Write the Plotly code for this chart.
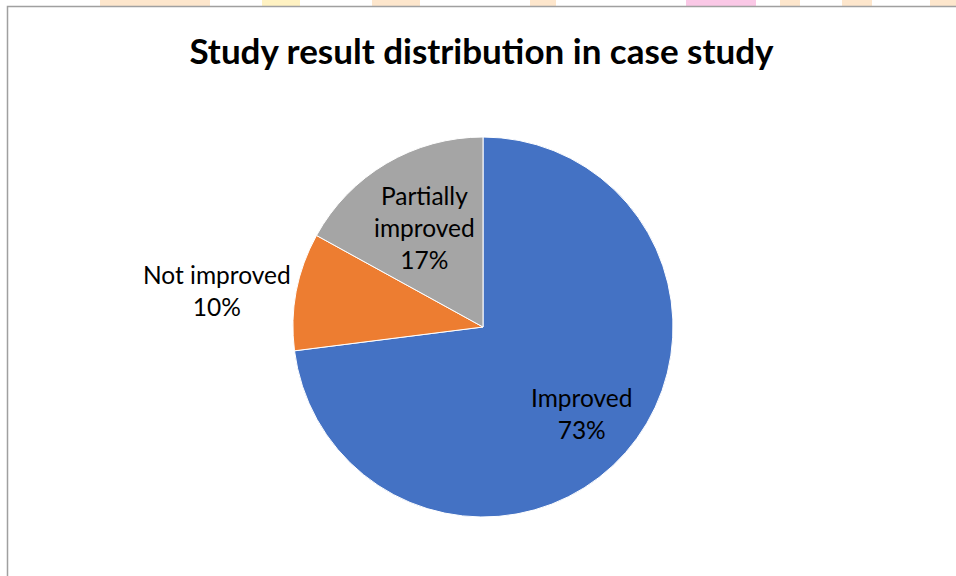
import math
import plotly.graph_objects as go

labels = ["Improved", "Not improved", "Partially improved"]
label_text = ["Improved", "Not improved", "Partially<br>improved"]
values = [73, 10, 17]
colors = ["#4472C4", "#ED7D31", "#A5A5A5"]

W, H = 956, 576
# pie geometry (pixels)
CX, CY, R = 483, 327, 190
dom_x = [(CX - R) / W, (CX + R) / W]
dom_y = [1 - (CY + R) / H, 1 - (CY - R) / H]

fig = go.Figure(go.Pie(
    labels=labels,
    values=values,
    sort=False,
    direction="clockwise",
    rotation=0,
    marker=dict(colors=colors, line=dict(color="white", width=1)),
    textinfo="none",
    showlegend=False,
    hoverinfo="label+percent",
    domain=dict(x=dom_x, y=dom_y),
))

# data labels placed at each slice's mid-angle
radial = [0.69, 1.02, 0.61]
anchors = ["center", "right", "center"]
total = sum(values)
cum = 0
annotations = []
for i, v in enumerate(values):
    mid = (cum + v / 2) / total * 2 * math.pi
    cum += v
    px = CX + radial[i] * R * math.sin(mid)
    py = CY - radial[i] * R * math.cos(mid)
    pct = round(100 * v / total)
    annotations.append(dict(
        x=px / W, y=1 - py / H, xref="paper", yref="paper",
        text=f"{label_text[i]}<br>{pct}%", showarrow=False,
        xanchor=anchors[i], yanchor="middle", align="center",
        font=dict(family="Lato", size=24.5, color="#000000"),
    ))

# faint decorative strip above the chart frame
strip = [(100, 210, "#FDE6CC"), (262, 300, "#FFF2C2"), (372, 420, "#FDE6CC"),
         (530, 556, "#FDE6CC"), (686, 756, "#FAC8E6"), (780, 800, "#FDE6CC"),
         (842, 872, "#FDE6CC"), (930, 956, "#FDE6CC")]
shapes = []
for x0, x1, c in strip:
    shapes.append(dict(type="rect", xref="paper", yref="paper", layer="below",
                       x0=x0 / W, x1=x1 / W, y0=1 - 6 / H, y1=1,
                       fillcolor=c, line=dict(width=0)))
shapes.append(dict(type="rect", xref="paper", yref="paper",
                   x0=7.5 / W, x1=1.2, y0=-0.2, y1=1 - 6.5 / H,
                   line=dict(color="#A0A0A0", width=1.5)))

fig.update_layout(
    width=W, height=H,
    margin=dict(l=0, r=0, t=0, b=0),
    paper_bgcolor="white",
    title=dict(text="<b>Study result distribution in case study</b>",
               x=481.5 / W, xanchor="center", y=1 - 52 / H, yanchor="middle",
               font=dict(family="Lato", size=35, color="#000000")),
    annotations=annotations,
    shapes=shapes,
)

fig.write_html("out.html")
